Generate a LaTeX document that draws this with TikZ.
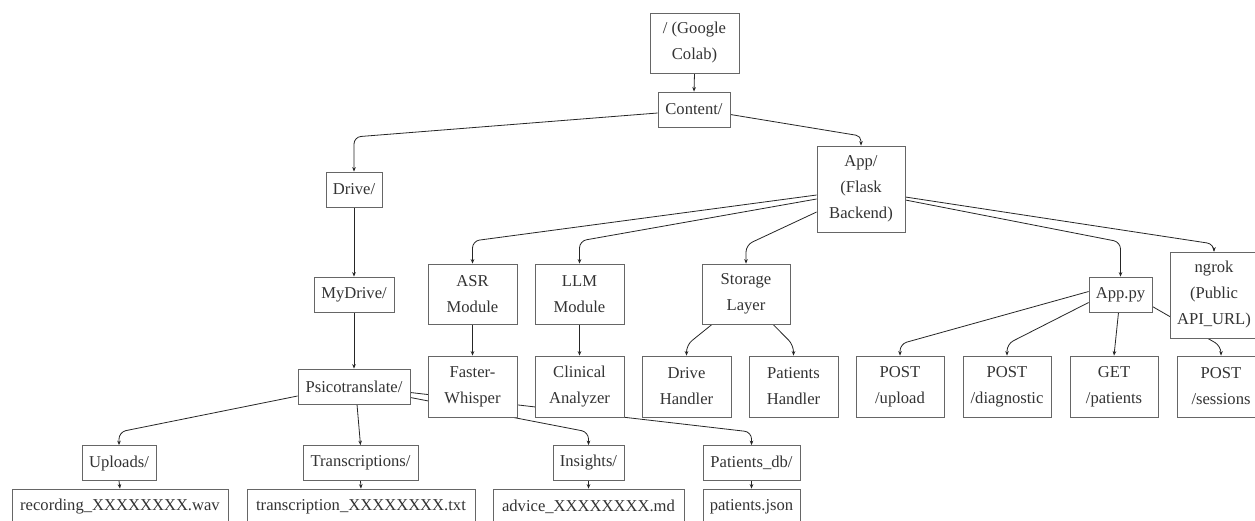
\documentclass[tikz,border=0pt]{standalone}
\usepackage{fontspec}
\setmainfont{Liberation Serif}
\newfontfamily\labelfont{Liberation Serif}
\usetikzlibrary{arrows.meta,backgrounds}
\begin{document}
\begin{tikzpicture}[x=1pt,y=-1pt,
  box/.style={draw=black!60, line width=0.8pt, fill=white, text=black!80,
    align=center, inner xsep=4pt, inner ysep=2pt,
    font=\labelfont\fontsize{16.6}{26}\selectfont},
  edge/.style={draw=black!85, line width=0.8pt, rounded corners=7pt,
    -{Stealth[length=4.5pt,width=3.6pt]}}]

% page frame
\useasboundingbox (0,0) rectangle (1255,520);

% ---- root and first levels ----
\node[box, minimum width=89pt, minimum height=60pt] (root) at (694.5,43) {/ (Google\\Colab)};
\node[box, minimum width=72pt, minimum height=35pt] (content) at (694,109.5) {Content/};
\node[box, minimum width=56pt, minimum height=35pt] (drive) at (354,189.5) {Drive/};
\node[box, minimum width=88pt, minimum height=86pt] (app) at (861,189) {App/\\(Flask\\Backend)};

% ---- second level ----
\node[box, minimum width=80pt, minimum height=35pt] (mydrive) at (354,294.5) {MyDrive/};
\node[box, minimum width=89pt, minimum height=60pt] (asr) at (472.5,294) {ASR\\Module};
\node[box, minimum width=89pt, minimum height=60pt] (llm) at (579.5,294) {LLM\\Module};
\node[box, minimum width=88pt, minimum height=60pt] (storage) at (746,294) {Storage\\Layer};
\node[box, minimum width=63pt, minimum height=35pt] (apppy) at (1120.5,294.5) {App.py};
\node[box, minimum width=88pt, minimum height=86pt] (ngrok) at (1214,295) {ngrok\\(Public\\API\_URL)};

% ---- third level ----
\node[box, minimum width=112pt, minimum height=35pt] (psico) at (354,386.5) {Psicotranslate/};
\node[box, minimum width=89pt, minimum height=61pt] (fw) at (472.5,386.5) {Faster-\\Whisper};
\node[box, minimum width=89pt, minimum height=61pt] (clin) at (579.5,386.5) {Clinical\\Analyzer};
\node[box, minimum width=89pt, minimum height=61pt] (dh) at (686.5,386.5) {Drive\\Handler};
\node[box, minimum width=89pt, minimum height=61pt] (ph) at (793.5,386.5) {Patients\\Handler};
\node[box, minimum width=88pt, minimum height=61pt] (up) at (900,386.5) {POST\\/upload};
\node[box, minimum width=88pt, minimum height=61pt] (diag) at (1007,386.5) {POST\\/diagnostic};
\node[box, minimum width=88pt, minimum height=61pt] (get) at (1114,386.5) {GET\\/patients};
\node[box, minimum width=88pt, minimum height=61pt] (sess) at (1221,386.5) {POST\\/sessions};

% ---- data folders ----
\node[box, minimum width=74pt, minimum height=35pt] (uploads) at (119,463) {Uploads/};
\node[box, minimum width=115pt, minimum height=35pt] (trans) at (360.5,463) {Transcriptions/};
\node[box, minimum width=71pt, minimum height=35pt] (insights) at (588.5,463) {Insights/};
\node[box, minimum width=97pt, minimum height=35pt] (pdb) at (751.5,463) {Patients\_db/};

% ---- files ----
\node[box, minimum width=216pt, minimum height=35pt] (rec) at (120,506.5) {recording\_XXXXXXXX.wav};
\node[box, minimum width=228pt, minimum height=35pt] (tr) at (361,506.5) {transcription\_XXXXXXXX.txt};
\node[box, minimum width=191pt, minimum height=35pt] (adv) at (588.5,506.5) {advice\_XXXXXXXX.md};
\node[box, minimum width=97pt, minimum height=35pt] (pj) at (751.5,506.5) {patients.json};

% ---- connectors, kept behind the boxes ----
\begin{pgfonlayer}{background}
\fill[white] (0,0) rectangle (1255,520);

\draw[edge] (root.south) -- (content.north);
\draw[edge] ([yshift=-3.5pt]content.west) -- (354,137) -- (drive.north);
\draw[edge, rounded corners=5pt] ([yshift=-5pt]content.east) -- (861,136) -- (app.north);

\draw[edge] (drive.south) -- (mydrive.north);
\draw[edge] (mydrive.south) -- (psico.north);

\draw[edge] ([yshift=-6pt]app.west) -- (472.5,241) -- (asr.north);
\draw[edge] ([yshift=-10pt]app.west) -- (579.5,241) -- (llm.north);
\draw[edge] ([yshift=-23pt]app.west) -- (746,245) -- (storage.north);
\draw[edge] ([yshift=-11pt]app.east) -- (1120.5,242) -- (apppy.north);
\draw[edge] ([yshift=-8pt]app.east) -- (1214,244) -- (ngrok.north);

\draw[edge] (asr.south) -- (fw.north);
\draw[edge] (llm.south) -- (clin.north);
\draw[edge] ([xshift=-34pt]storage.south) -- (686.5,345) -- (dh.north);
\draw[edge] ([xshift=27pt]storage.south) -- (793.5,345) -- (ph.north);

\draw[edge] ([yshift=3pt]apppy.west) -- (900,344) -- (up.north);
\draw[edge] ([yshift=-8pt]apppy.west) -- (1007,344) -- (diag.north);
\draw[edge] ([xshift=-2pt]apppy.south) -- (get.north);
\draw[edge] ([yshift=-12pt]apppy.east) -- (1221,346) -- (sess.north);

\draw[edge] ([yshift=-9.5pt]psico.west) -- (119,432) -- (uploads.north);
\draw[edge] ([xshift=3pt]psico.south) -- (trans.north);
\draw[edge] ([yshift=-11pt]psico.east) -- (588.5,432) -- (insights.north);
\draw[edge] ([yshift=-6pt]psico.east) -- (751.5,432) -- (pdb.north);

\draw[edge] (uploads.south) -- (rec.north);
\draw[edge] (trans.south) -- (tr.north);
\draw[edge] (insights.south) -- (adv.north);
\draw[edge] (pdb.south) -- (pj.north);
\end{pgfonlayer}
\end{tikzpicture}
\end{document}
